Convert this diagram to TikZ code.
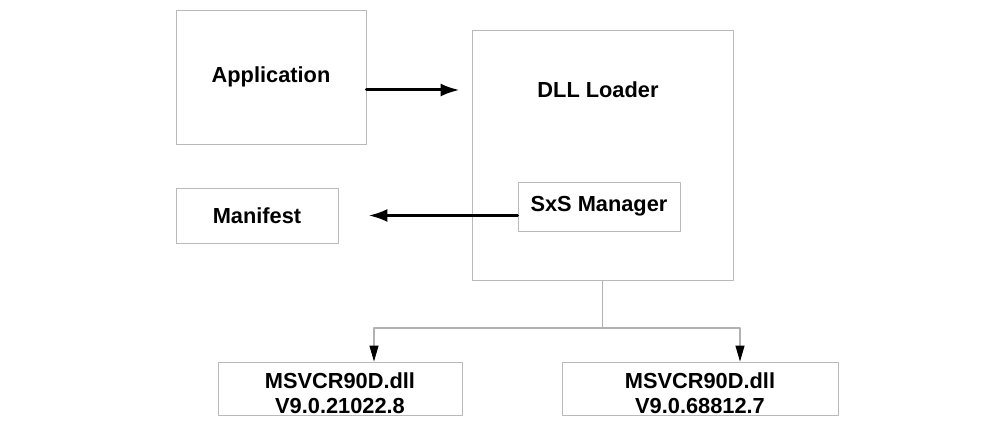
\documentclass[tikz,border=0pt]{standalone}
\usepackage{fontspec}
\setmainfont{Liberation Sans}
\usetikzlibrary{arrows.meta,calc}

\begin{document}
\begin{tikzpicture}[x=0.02cm, y=-0.02cm, line cap=round, line join=round,
  box/.style={draw=gray!55, line width=0.5pt, inner sep=0pt},
  txt/.style={font=\fontsize{12.4}{14.2}\selectfont\bfseries, align=center},
  arr/.style={line width=1.7pt, -{Latex[length=3.8mm,width=2.6mm]}},
  tree/.style={draw=gray!60, line width=0.6pt},
  drop/.style={tree, -{Triangle[length=3.2mm,width=1.8mm,color=black,fill=black]}}]
% ---------- frame ----------
\useasboundingbox (0,0) rectangle (1004,431);

% ---------- boxes ----------
\node[box, minimum width=3.8cm,  minimum height=2.68cm] (app) at (271,77) {};
\node[box, minimum width=5.22cm, minimum height=5cm]    (dll) at (602.5,155) {};
\node[box, minimum width=3.24cm, minimum height=0.98cm] (sxs) at (599,206.5) {};
\node[box, minimum width=3.24cm, minimum height=1.1cm]  (man) at (257,215.5) {};
\node[box, minimum width=4.88cm, minimum height=1.06cm] (v1)  at (340,388.5) {};
\node[box, minimum width=5.52cm, minimum height=1.06cm] (v2)  at (700,388.5) {};

% ---------- labels ----------
\node[txt] (apptxt) at (app) {Application};
\node[txt] (dlltxt) at (598,90) {DLL Loader};
\node[txt] (sxstxt) at (sxs) {SxS Manager};
\node[txt] (mantxt) at (man) {Manifest};
\node[txt] (v1txt)  at (340,393) {MSVCR90D.dll\\V9.0.21022.8};
\node[txt] (v2txt)  at (700,393) {MSVCR90D.dll\\V9.0.68812.7};

% ---------- arrows ----------
\draw[arr] (app.east |- dlltxt) -- ([xshift=-0.24cm]dll.west |- dlltxt);
\draw[arr] (sxs.west |- man) -- ([xshift=0.6cm]man.east);

% versions below the loader
\coordinate (bar) at (600,328);
\draw[tree] (dll.south) -- (dll.south |- bar);
\draw[drop] (dll.south |- bar) -| ([xshift=0.68cm]v1.north);
\draw[drop] (dll.south |- bar) -| ([xshift=0.8cm]v2.north);
\end{tikzpicture}
\end{document}
